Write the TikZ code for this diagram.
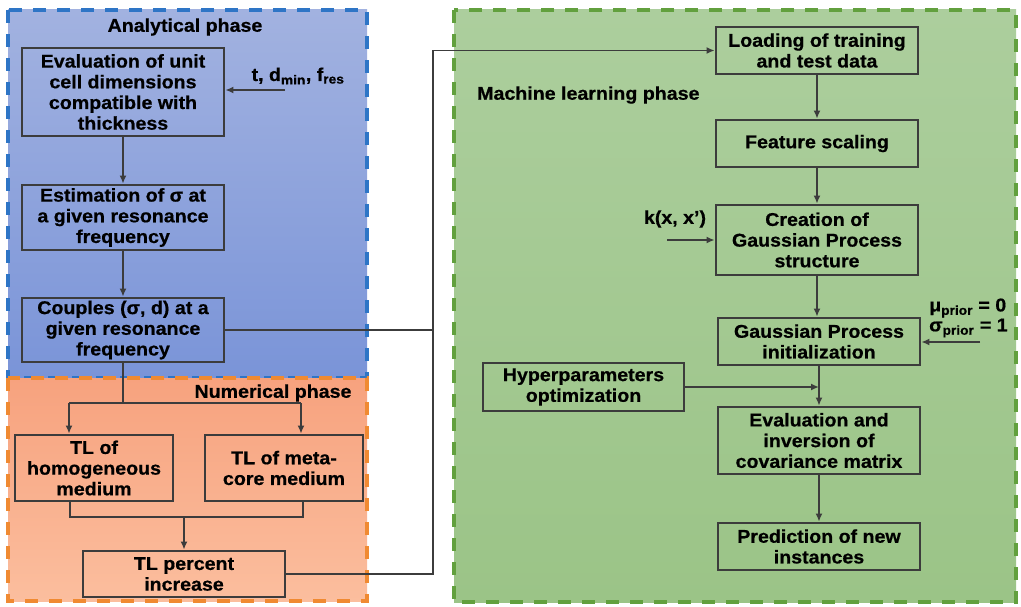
\documentclass[tikz,border=0pt]{standalone}
\usepackage{fontspec}
\setmainfont{Liberation Sans}[FakeStretch=1.06, BoldFeatures={FakeBold=0.6}]
\usetikzlibrary{arrows.meta}
\definecolor{bluetop}{RGB}{162,178,224}
\definecolor{bluebot}{RGB}{122,148,216}
\definecolor{bluedash}{RGB}{46,117,198}
\definecolor{orgtop}{RGB}{247,162,126}
\definecolor{orgbot}{RGB}{251,190,158}
\definecolor{orgdash}{RGB}{240,138,50}
\definecolor{grntop}{RGB}{172,206,157}
\definecolor{grnbot}{RGB}{155,196,135}
\definecolor{grndash}{RGB}{98,160,62}
\definecolor{ink}{RGB}{60,60,60}
\tikzset{
  every node/.style={font=\fontsize{18.5}{20.7}\selectfont\bfseries, text=black},
  box/.style={draw=ink, line width=2.8pt, align=center, inner sep=0pt},
  conn/.style={draw=ink, line width=1.6pt},
  arr/.style={conn, -{Latex[length=8pt,width=7pt]}},
  region/.style={line width=4pt, dash pattern=on 13pt off 11pt},
  lbl/.style={inner sep=0pt}
}
\begin{document}
\begin{tikzpicture}[x=1pt,y=-1pt]
\useasboundingbox (0,0) rectangle (1021,607);
\fill[white] (0,0) rectangle (1021,607);
% regions
\shade[top color=bluetop, bottom color=bluebot] (8,10) rectangle (367,378);
\draw[region, draw=bluedash] (8,10) rectangle (367,378);
\shade[top color=orgtop, bottom color=orgbot] (8,378) rectangle (367,601);
\draw[region, draw=orgdash] (8,378) rectangle (367,601);
\shade[top color=grntop, bottom color=grnbot] (454,10) rectangle (1016,602);
\draw[region, draw=grndash] (454,10) rectangle (1016,602);

% titles
\node[lbl] (tA) at (185,27) {Analytical phase};
\node[lbl] (tN) at (273,393) {Numerical phase};
\node[lbl, anchor=west] (tM) at (477,95) {Machine learning phase};

% analytical boxes
\node[box, minimum width=202pt, minimum height=88pt] (b1) at (123,92) {Evaluation of unit\\cell dimensions\\compatible with\\thickness};
\node[box, minimum width=202pt, minimum height=65pt] (b2) at (123,217.5) {Estimation of σ at\\a given resonance\\frequency};
\node[box, minimum width=202pt, minimum height=64pt] (b3) at (123,330) {Couples (σ, d) at a\\given resonance\\frequency};
\node[lbl] (tin) at (298,76) {t, d\textsubscript{min}, f\textsubscript{res}};
\coordinate (tinS) at (285,90);

% numerical boxes
\node[box, minimum width=158pt, minimum height=66pt] (th) at (94,468) {TL of\\homogeneous\\medium};
\node[box, minimum width=158pt, minimum height=66pt] (tm) at (284,468) {TL of meta-\\core medium};
\node[box, minimum width=202pt, minimum height=46pt] (tp) at (184,574) {TL percent\\increase};

% ML boxes
\node[box, minimum width=202pt, minimum height=47pt] (ld) at (817,50.5) {Loading of training\\and test data};
\node[box, minimum width=202pt, minimum height=47pt] (fs) at (817,143.5) {Feature scaling};
\node[box, minimum width=202pt, minimum height=70pt] (cr) at (817,240) {Creation of\\Gaussian Process\\structure};
\node[box, minimum width=202pt, minimum height=47pt] (gp) at (819,341.5) {Gaussian Process\\initialization};
\node[box, minimum width=201pt, minimum height=48pt] (hp) at (583.5,387) {Hyperparameters\\optimization};
\node[box, minimum width=202pt, minimum height=67pt] (ev) at (819,440.5) {Evaluation and\\inversion of\\covariance matrix};
\node[box, minimum width=202pt, minimum height=47pt] (pr) at (819,546.5) {Prediction of new\\instances};
\node[lbl] (kl) at (675,219) {k(x, x’)};
\coordinate (kin) at (667,240);
\node[lbl, anchor=west] (mu) at (929,308) {μ\textsubscript{prior} = 0};
\node[lbl, anchor=west] (sg) at (929,328) {σ\textsubscript{prior} = 1};
\coordinate (muin) at (980,342);

% analytical connectors
\draw[arr] (tinS) -- (tinS -| b1.east);
\draw[arr] (b1.south) -- (b2.north);
\draw[arr] (b2.south) -- (b3.north);
\coordinate (sL) at (69,403);
\coordinate (sR) at (301,403);
\draw[conn] (b3.south) -- (b3.south |- sL);
\draw[conn] (sL) -- (sR);
\draw[arr] (sL) -- (sL |- th.north);
\draw[arr] (sR) -- (sR |- tm.north);
\coordinate (jL) at (70,517);
\coordinate (jR) at (303,517);
\draw[conn] (jL |- th.south) -- (jL) -- (jR) -- (jR |- tm.south);
\draw[arr] (tp.north |- jL) -- (tp.north);

% bus to ML
\coordinate (bus) at (433,0);
\draw[arr] (b3.east) -- (b3.east -| bus) -- (bus |- ld.west) -- (ld.west);
\draw[conn] (tp.east) -- (tp.east -| bus) -- (bus |- b3.east);

% ML connectors
\draw[arr] (ld.south) -- (fs.north);
\draw[arr] (fs.south) -- (fs.south |- cr.north);
\draw[arr] (cr.south) -- (cr.south |- gp.north);
\draw[arr] (kin) -- (kin -| cr.west);
\draw[arr] (muin) -- (muin -| gp.east);
\draw[arr] (gp.south) -- (ev.north);
\draw[arr] (hp.east) -- (hp.east -| gp.south);
\draw[arr] (ev.south) -- (pr.north);
\end{tikzpicture}
\end{document}
